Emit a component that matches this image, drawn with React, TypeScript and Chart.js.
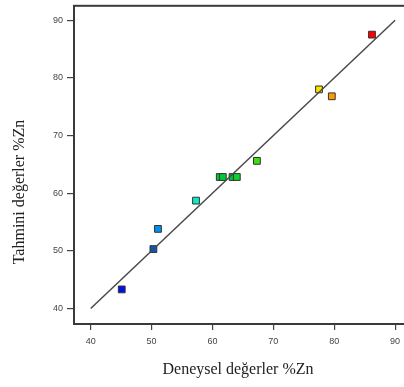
import React, { useEffect, useRef } from "react";
import { Chart, registerables } from "chart.js";

Chart.register(...registerables);

const experimental = [45.1, 50.3, 51.05, 57.3, 61.2, 61.7, 63.3, 64.0, 67.3, 77.5, 79.6, 86.2];
const predicted = [43.3, 50.3, 53.8, 58.7, 62.8, 62.8, 62.8, 62.8, 65.6, 78.0, 76.8, 87.5];
const pointColors = [
  "#0010e8", "#0058d0", "#0090f0", "#10e8c8", "#00c838", "#00c838",
  "#00c838", "#10d030", "#38e010", "#f8e000", "#ff9c00", "#ff0000",
];
const lineX = [40, 90];
const xTicks = [40, 50, 60, 70, 80, 90];
const yTicks = [40, 50, 60, 70, 80, 90];
const xTitle = "Deneysel değerler %Zn";
const yTitle = "Tahmini değerler %Zn";

const framePlugin = {
  id: "framePlugin",
  afterDraw(chart: any) {
    const { ctx, chartArea } = chart;
    ctx.save();
    ctx.strokeStyle = "#3a3a3a";
    ctx.lineWidth = 2;
    ctx.strokeRect(chartArea.left, chartArea.top, chartArea.right - chartArea.left, chartArea.bottom - chartArea.top);
    ctx.fillStyle = "#222";
    ctx.font = "16px 'Liberation Serif'";
    ctx.textAlign = "center";
    ctx.textBaseline = "middle";
    ctx.fillText(xTitle, 238, 370);
    ctx.translate(20, 192);
    ctx.rotate(-Math.PI / 2);
    ctx.fillText(yTitle, 0, 0);
    ctx.restore();
  },
};

export default function App() {
  const ref = useRef<HTMLCanvasElement>(null);
  useEffect(() => {
    if (!ref.current) return;
    const chart = new Chart(ref.current, {
      type: "scatter",
      data: {
        datasets: [
          {
            type: "line",
            data: lineX.map((v) => ({ x: v, y: v })),
            borderColor: "#4a4a4a",
            borderWidth: 1.5,
            pointRadius: 0,
            fill: false,
          } as any,
          {
            data: experimental.map((x, i) => ({ x, y: predicted[i] })),
            pointStyle: "rect",
            pointRadius: 4.8,
            backgroundColor: pointColors,
            borderColor: "#333",
            borderWidth: 1,
          },
        ],
      },
      options: {
        responsive: false,
        animation: false,
        devicePixelRatio: 1,
        layout: { padding: { left: 0, top: 3, right: 26, bottom: 0 } },
        plugins: { legend: { display: false }, tooltip: { enabled: false } },
        scales: {
          x: {
            type: "linear",
            min: 37.26,
            max: 93.1,
            afterFit: (s: any) => { s.height = 63; s.paddingLeft = 0; s.paddingRight = 0; },
            afterBuildTicks: (s: any) => { s.ticks = xTicks.map((v) => ({ value: v })); },
            border: { display: false },
            grid: { drawOnChartArea: false, drawTicks: true, tickLength: 6, color: "#444", lineWidth: 1.2 },
            ticks: { autoSkip: false, maxRotation: 0, padding: 6, color: "#444", font: { family: "'Liberation Sans'", size: 9 } },
          },
          y: {
            type: "linear",
            min: 37.3,
            max: 92.5,
            afterFit: (s: any) => { s.width = 74; s.paddingTop = 0; s.paddingBottom = 0; },
            afterBuildTicks: (s: any) => { s.ticks = yTicks.map((v) => ({ value: v })); },
            border: { display: false },
            grid: { drawOnChartArea: false, drawTicks: true, tickLength: 7, color: "#444", lineWidth: 1.2 },
            ticks: { autoSkip: false, padding: 4, color: "#444", font: { family: "'Liberation Sans'", size: 9 } },
          },
        },
      },
      plugins: [framePlugin],
    });
    return () => chart.destroy();
  }, []);
  return (
    <div style={{ position: "absolute", left: 0, top: 0, width: 404, height: 387, overflow: "hidden", background: "#fff" }}>
      <canvas ref={ref} width={440} height={387} style={{ display: "block" }} />
    </div>
  );
}
